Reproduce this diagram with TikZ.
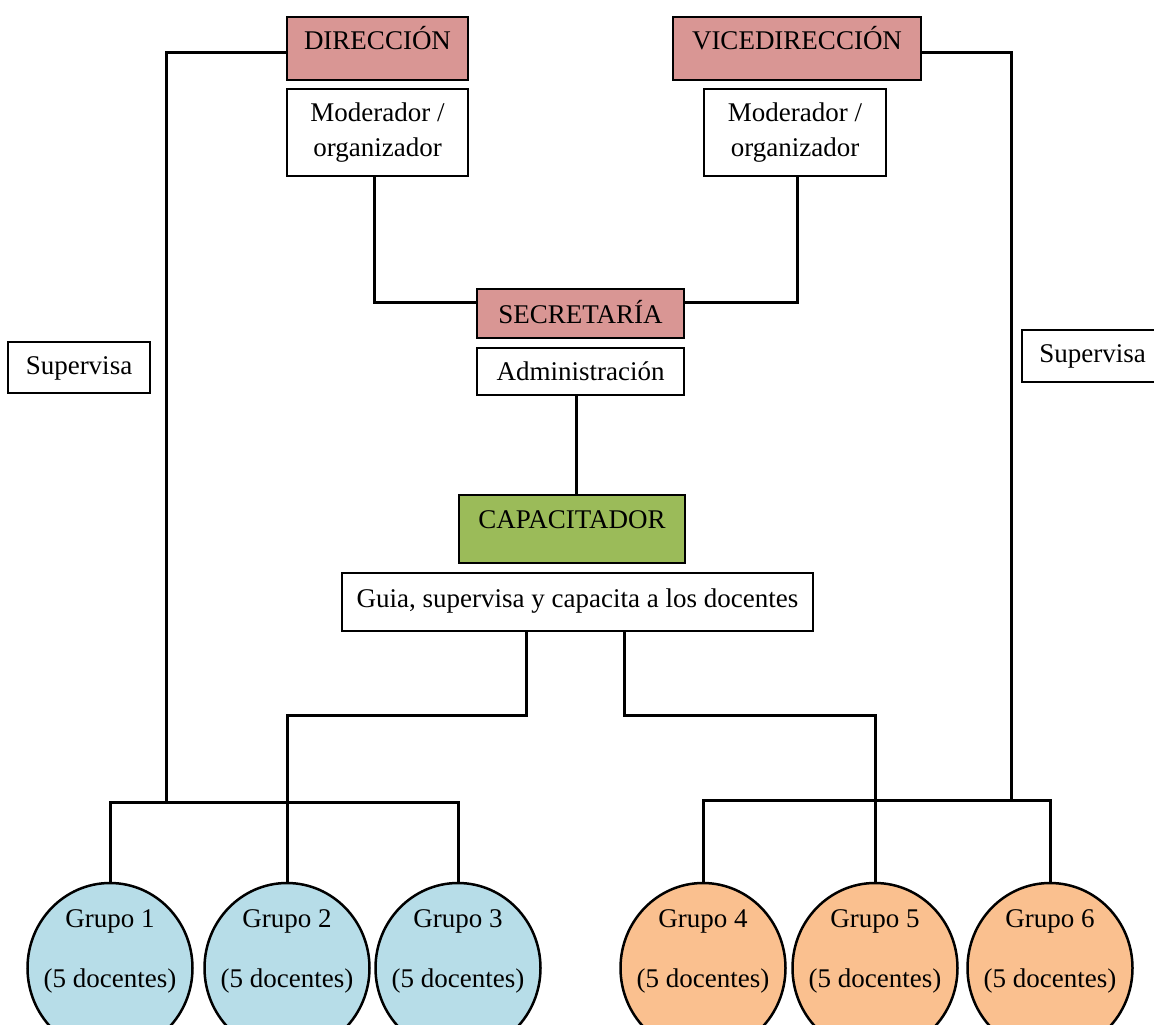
\documentclass[tikz,border=0pt]{standalone}
\usepackage{fontspec}
\setmainfont{Liberation Serif}
\usetikzlibrary{shapes.geometric}
\definecolor{pinkc}{RGB}{217,150,148}
\definecolor{greenc}{RGB}{155,187,89}
\definecolor{bluec}{RGB}{183,221,232}
\definecolor{orangec}{RGB}{250,192,143}
\begin{document}
\begin{tikzpicture}[x=1pt,y=-1pt,
  conn/.style={line width=3pt, line join=miter},
  boxbase/.style={draw=black, line width=1.8pt, inner sep=0pt, font=\fontsize{27}{35}\selectfont, align=center},
  headbox/.style={boxbase, fill=pinkc},
  plainbox/.style={boxbase, fill=white},
  grp/.style={ellipse, draw=black, line width=2.5pt, minimum width=165pt, minimum height=170pt, inner sep=0pt},
  grptext/.style={font=\fontsize{27}{60}\selectfont, align=center, inner sep=0pt}
]
\useasboundingbox (0,0) rectangle (1154,1025);
\fill[white] (0,0) rectangle (1154,1025);

% boxes
\node[headbox, minimum width=181pt, minimum height=63pt, text height=33pt, text depth=30pt] (dir) at (377.5,48.5) {DIRECCIÓN};
\node[plainbox, minimum width=181pt, minimum height=87pt] (mod1) at (377.5,132.5) {Moderador /\\organizador};
\node[headbox, minimum width=248pt, minimum height=63pt, text height=33pt, text depth=30pt] (vdir) at (797,48.5) {VICEDIRECCIÓN};
\node[plainbox, minimum width=182pt, minimum height=87pt] (mod2) at (795,132.5) {Moderador /\\organizador};
\node[headbox, minimum width=207pt, minimum height=49pt, text height=34pt, text depth=15pt] (sec) at (580.5,313.5) {SECRETARÍA};
\node[plainbox, minimum width=207pt, minimum height=47pt, text height=32pt, text depth=15pt] (adm) at (580.5,371.5) {Administración};
\node[boxbase, fill=greenc, minimum width=226pt, minimum height=68pt, text height=33pt, text depth=35pt] (cap) at (572,529) {CAPACITADOR};
\node[plainbox, minimum width=471pt, minimum height=58pt, text height=34pt, text depth=24pt] (guia) at (577.5,602) {Guia, supervisa y capacita a los docentes};
\node[plainbox, minimum width=142pt, minimum height=51pt, text height=32pt, text depth=19pt] (sup1) at (79,367.5) {Supervisa};
\node[plainbox, minimum width=141pt, minimum height=52pt, text height=32pt, text depth=20pt] (sup2) at (1092.5,356) {Supervisa};

% groups
\node[grp, fill=bluec] (g1) at (110,968) {};
\node[grp, fill=bluec] (g2) at (287,968) {};
\node[grp, fill=bluec] (g3) at (458,968) {};
\node[grp, fill=orangec] (g4) at (703,968) {};
\node[grp, fill=orangec] (g5) at (875,968) {};
\node[grp, fill=orangec] (g6) at (1050,968) {};
\node[grptext] (t1) at (110,951) {Grupo 1\\(5 docentes)};
\node[grptext] (t2) at (287,951) {Grupo 2\\(5 docentes)};
\node[grptext] (t3) at (458,951) {Grupo 3\\(5 docentes)};
\node[grptext] (t4) at (703,951) {Grupo 4\\(5 docentes)};
\node[grptext] (t5) at (875,951) {Grupo 5\\(5 docentes)};
\node[grptext] (t6) at (1050,951) {Grupo 6\\(5 docentes)};

% junction coordinates
\coordinate (dirL) at (166,53);
\coordinate (vdirR) at (1011,53);
\coordinate (busL) at (110,802);
\coordinate (busR) at (703,800);
\coordinate (m1) at (374,302);
\coordinate (m2) at (797,302);
\coordinate (ac) at (576,0);
\coordinate (gl) at (526,715);
\coordinate (gr) at (624,715);

% connectors
\draw[conn] (dir.west |- dirL) -- (dirL) -- (dirL |- busL);
\draw[conn] (vdir.east |- vdirR) -- (vdirR) -- (vdirR |- busR);
\draw[conn] (g1.north) -- (g1.north |- busL) -- (g3.north |- busL) -- (g3.north);
\draw[conn] (g4.north) -- (g4.north |- busR) -- (g6.north |- busR) -- (g6.north);
\draw[conn] (mod1.south -| m1) -- (m1) -- (sec.west |- m1);
\draw[conn] (mod2.south -| m2) -- (m2) -- (sec.east |- m2);
\draw[conn] (adm.south -| ac) -- (cap.north -| ac);
\draw[conn] (guia.south -| gl) -- (gl) -- (gl -| g2.north) -- (g2.north);
\draw[conn] (guia.south -| gr) -- (gr) -- (gr -| g5.north) -- (g5.north);
\end{tikzpicture}
\end{document}
